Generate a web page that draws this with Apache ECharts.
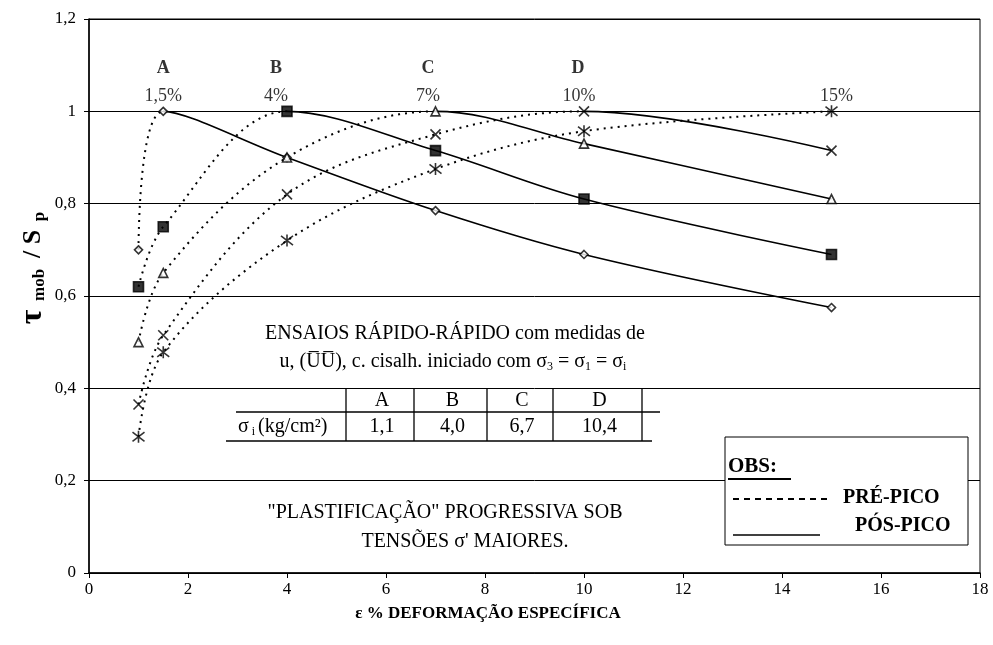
<!DOCTYPE html>
<html>
<head>
<meta charset="utf-8">
<script src="https://cdn.jsdelivr.net/npm/echarts@6/dist/echarts.min.js"></script>
<style>html,body{margin:0;padding:0;background:#fff}#c{width:993px;height:645px}</style>
</head>
<body>
<div id="c"></div>
<script>
// ---- data ----
var strain = [1, 1.5, 4, 7, 10, 15];
var testA = [0.70, 1.00, 0.90, 0.785, 0.69, 0.575];
var testB = [0.62, 0.75, 1.00, 0.915, 0.81, 0.69];
var testC = [0.50, 0.65, 0.90, 1.00, 0.93, 0.81];
var testD = [0.365, 0.515, 0.82, 0.95, 1.00, 0.915];
var testE = [0.295, 0.478, 0.72, 0.875, 0.957, 1.00];
var peakIndex = [1, 2, 3, 4, 5];
var peakLetters = ['A', 'B', 'C', 'D'];
var peakLetterX = [1.5, 3.78, 6.85, 9.88];
var peakPercents = ['1,5%', '4%', '7%', '10%', '15%'];
var peakPercentX = [1.5, 3.78, 6.85, 9.9, 15.1];
var yTicks = [0, 0.2, 0.4, 0.6, 0.8, 1, 1.2];
var xTicks = [0, 2, 4, 6, 8, 10, 12, 14, 16, 18];
var tableHead = ['A', 'B', 'C', 'D'];
var tableVals = ['1,1', '4,0', '6,7', '10,4'];

var SERIF = '"Liberation Serif","Times New Roman",serif';
var tests = [testA, testB, testC, testD, testE];
var X_PATH = 'path://M0,0L10,10M10,0L0,10';
var AST_PATH = 'path://M0,0L10,10M10,0L0,10M5,-1.5L5,11.5';
var symbols = [
  {symbol: 'diamond', size: 8, fill: '#fff'},
  {symbol: 'rect', size: 10, fill: '#000'},
  {symbol: 'triangle', size: 9, fill: '#fff'},
  {symbol: X_PATH, size: 10, fill: 'none'},
  {symbol: AST_PATH, size: 12, fill: 'none'}
];

function pts(vals) {
  return strain.map(function (x, i) { return [x, vals[i]]; });
}

var CLEAR = 'rgba(0,0,0,0)';
var series = [];
var visualMaps = [];
tests.forEach(function (vals, k) {
  var peakX = strain[peakIndex[k]];
  // whole test is one smooth curve; pre-peak part dotted, post-peak part solid
  series.push({
    type: 'line', data: pts(vals), smooth: 0.35, symbol: 'none', silent: true,
    lineStyle: {width: 2, type: [2, 5]}, z: 2
  });
  visualMaps.push({type: 'piecewise', show: false, dimension: 0, seriesIndex: series.length - 1,
    pieces: [{gte: -5, lte: peakX, color: '#000'}, {gt: peakX, lte: 40, color: CLEAR}],
    outOfRange: {color: CLEAR}});
  if (peakIndex[k] < strain.length - 1) {
    series.push({
      type: 'line', data: pts(vals), smooth: 0.35, symbol: 'none', silent: true,
      lineStyle: {width: 1.6, type: 'solid'}, z: 2
    });
    visualMaps.push({type: 'piecewise', show: false, dimension: 0, seriesIndex: series.length - 1,
      pieces: [{gte: -5, lt: peakX, color: CLEAR}, {gte: peakX, lte: 40, color: '#000'}],
      outOfRange: {color: CLEAR}});
  }
});
tests.forEach(function (vals, k) {
  var s = symbols[k];
  series.push({
    type: 'scatter', data: pts(vals), symbol: s.symbol, symbolSize: s.size,
    itemStyle: {color: s.fill, borderColor: '#000', borderWidth: 1.6}, z: 5 + k, silent: true
  });
});
series.push({
  type: 'scatter', symbolSize: 0, silent: true, z: 10,
  data: peakLetters.map(function (t, i) { return {value: [peakLetterX[i], 1.093], name: t}; }),
  label: {show: true, position: 'inside', formatter: '{b}', color: '#000', fontFamily: SERIF, fontWeight: 'bold', fontSize: 18}
});
series.push({
  type: 'scatter', symbolSize: 0, silent: true, z: 10,
  data: peakPercents.map(function (t, i) { return {value: [peakPercentX[i], 1.032], name: t}; }),
  label: {show: true, position: 'inside', formatter: '{b}', color: '#000', fontFamily: SERIF, fontSize: 18}
});

var fmt = function (v) { return String(Math.round(v * 10) / 10).replace('.', ','); };

var chart = echarts.init(document.getElementById('c'), null, {renderer: 'canvas'});

// table graphics
var tX = [346, 414, 487, 553, 642];
var g = [];
function line(x1, y1, x2, y2, w) {
  g.push({type: 'line', shape: {x1: x1, y1: y1, x2: x2, y2: y2}, style: {stroke: '#000', lineWidth: w || 1.3}, z: 20});
}
function txt(x, y, t, opt) {
  var st = Object.assign({text: t, x: x, y: y, fill: '#000', font: '20px ' + SERIF, textAlign: 'center', textVerticalAlign: 'middle'}, opt || {});
  g.push({type: 'text', style: st, z: 20});
}
tX.forEach(function (x) { line(x, 389, x, 441); });
line(236, 412, 660, 412);
line(226, 441, 652, 441);
tableHead.forEach(function (h, i) { txt((tX[i] + tX[i + 1]) / 2 + 2, 401, h); });
tableVals.forEach(function (h, i) { txt((tX[i] + tX[i + 1]) / 2 + 2, 427, h); });
g.push({type: 'text', z: 20, style: {x: 238, y: 427, textVerticalAlign: 'middle', rich: {
  a: {fontFamily: SERIF, fontSize: 20, fill: '#000'},
  s: {fontFamily: SERIF, fontSize: 12, fill: '#000', padding: [9, 0, 0, 0]}
}, text: '{a|σ}{s| i }{a|(kg/cm²)}'}});

// descriptive texts
txt(455, 334, 'ENSAIOS RÁPIDO-RÁPIDO com medidas de');
g.push({type: 'text', z: 20, style: {x: 453, y: 362, textAlign: 'center', textVerticalAlign: 'middle', rich: {
  a: {fontFamily: SERIF, fontSize: 20, fill: '#000'},
  s: {fontFamily: SERIF, fontSize: 12, fill: '#000', padding: [9, 0, 0, 0]}
}, text: '{a|u, (U\u0305U\u0305), c. cisalh. iniciado com σ}{s|3}{a| = σ}{s|1}{a| = σ}{s|i}'}});
txt(445, 513, '"PLASTIFICAÇÃO" PROGRESSIVA SOB');
txt(465, 542, "TENSÕES σ' MAIORES.");

// legend box
g.push({type: 'rect', shape: {x: 725, y: 437, width: 243, height: 108}, style: {fill: '#fff', stroke: '#000', lineWidth: 1}, z: 19});
txt(728, 467, 'OBS:', {textAlign: 'left', font: 'bold 21px ' + SERIF});
line(728, 479, 791, 479, 1.8);
g.push({type: 'line', shape: {x1: 733, y1: 499, x2: 830, y2: 499}, style: {stroke: '#000', lineWidth: 1.8, lineDash: [6, 5]}, z: 20});
txt(843, 498, 'PRÉ-PICO', {textAlign: 'left', font: 'bold 20px ' + SERIF});
line(733, 535, 820, 535, 1.3);
txt(855, 526, 'PÓS-PICO', {textAlign: 'left', font: 'bold 20px ' + SERIF});

// axis titles
txt(488, 614, 'ε % DEFORMAÇÃO ESPECÍFICA', {font: 'bold 17px ' + SERIF});
g.push({type: 'text', z: 20, rotation: Math.PI / 2, x: 33, y: 268, style: {x: 0, y: 0, textAlign: 'center', textVerticalAlign: 'middle', rich: {
  t: {fontFamily: SERIF, fontSize: 32, fontWeight: 'bold', fill: '#000'},
  n: {fontFamily: SERIF, fontSize: 26, fontWeight: 'bold', fill: '#000'},
  s: {fontFamily: SERIF, fontSize: 17, fontWeight: 'bold', fill: '#000', padding: [13, 0, 0, 0]}
}, text: '{t|τ}{s|  mob }{n| / S}{s|  p}'}});

chart.setOption({
  animation: false,
  backgroundColor: '#fff',
  grid: {left: 89, right: 13, top: 19, bottom: 72, show: true, borderColor: '#000', borderWidth: 1},
  visualMap: visualMaps,
  xAxis: {
    type: 'value', min: xTicks[0], max: xTicks[xTicks.length - 1], interval: 2,
    axisLine: {show: true, lineStyle: {color: '#000', width: 1.5}},
    axisTick: {show: true, length: 5, lineStyle: {color: '#000'}},
    axisLabel: {color: '#000', fontFamily: SERIF, fontSize: 17, margin: 8, formatter: fmt},
    splitLine: {show: false}
  },
  yAxis: {
    type: 'value', min: yTicks[0], max: yTicks[yTicks.length - 1], interval: 0.2,
    axisLine: {show: true, lineStyle: {color: '#000', width: 1.5}},
    axisTick: {show: true, length: 5, lineStyle: {color: '#000'}},
    axisLabel: {color: '#000', fontFamily: SERIF, fontSize: 17, margin: 13, formatter: fmt},
    splitLine: {show: true, lineStyle: {color: '#000', width: 1}}
  },
  series: series,
  graphic: g
});
</script>
</body>
</html>
